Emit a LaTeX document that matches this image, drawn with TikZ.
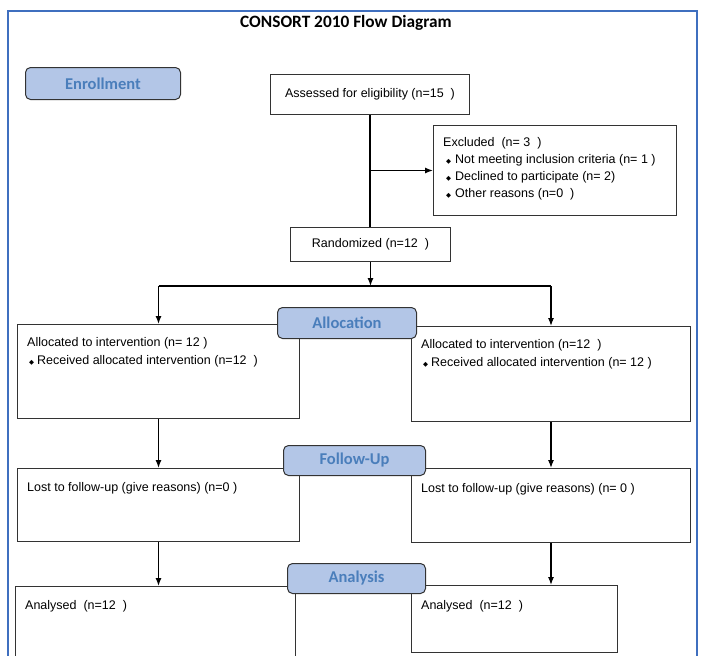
\documentclass[tikz,border=0pt]{standalone}
\usepackage{fontspec}
\setmainfont{Liberation Sans}
\newfontfamily\calib{Carlito}
\newfontfamily\symf{DejaVu Sans}
\usetikzlibrary{arrows.meta,calc}
\definecolor{frameblue}{HTML}{3F6FBF}
\definecolor{phasefill}{HTML}{B3C6E7}
\definecolor{phasetext}{HTML}{4A7EBB}
\definecolor{boxline}{HTML}{333333}
\newcommand{\bul}{{\symf\fontsize{6.5}{6.5}\selectfont ◆}}
\begin{document}
\begin{tikzpicture}[x=1pt,y=-1pt,
  box/.style={draw=boxline, line width=1pt, fill=white, inner sep=0pt, anchor=north west, font=\fontsize{12.5}{18}\selectfont},
  txt/.style={font=\fontsize{12.5}{18}\selectfont, align=left, inner sep=0pt},
  phase/.style={draw=boxline, line width=1pt, fill=phasefill, rounded corners=5pt, inner sep=0pt, anchor=north west, font=\calib\bfseries\fontsize{16.5}{16.5}\selectfont, text=phasetext},
  arr/.style={line width=1.2pt, -{Latex[length=8pt,width=6pt]}},
  ln/.style={line width=1.2pt}]
\useasboundingbox (0,0) rectangle (702,656);
\clip (0,0) rectangle (702,656);
\fill[white] (0,0) rectangle (702,656);
\draw[frameblue, line width=1.5pt] (8,11) rectangle (697,720);
\node[font=\calib\bfseries\fontsize{17.3}{17.3}\selectfont] (title) at (346,23) {CONSORT 2010 Flow Diagram};
% boxes
\node[box, minimum width=199pt, minimum height=40pt] (as) at (270,74) {Assessed for eligibility (n=15~~)};
\node[box, minimum width=243pt, minimum height=90pt] (ex) at (433,125) {};
\node[box, minimum width=160pt, minimum height=34pt] (rz) at (290,227) {Randomized (n=12~~)};
\node[box, minimum width=282pt, minimum height=94pt] (la) at (17,324) {};
\node[box, minimum width=279pt, minimum height=95pt] (ra) at (411,326) {};
\node[box, minimum width=282pt, minimum height=73pt] (ll) at (17,468) {};
\node[box, minimum width=279pt, minimum height=74pt] (rl) at (411,468) {};
\node[box, minimum width=280pt, minimum height=110pt] (lan) at (15,586) {};
\node[box, minimum width=206pt, minimum height=67pt] (ran) at (411,585) {};
% texts
\node[txt, anchor=north west, font=\fontsize{12.5}{17}\selectfont] (extx) at (443,137) {Excluded~~(n=~3~~)\\
\hspace{3pt}\bul\hspace{4pt}Not meeting inclusion criteria (n=~1~)\\
\hspace{3pt}\bul\hspace{4pt}Declined to participate (n=~2)\\
\hspace{3pt}\bul\hspace{4pt}Other reasons (n=0~~)};
\node[txt, anchor=north west] (latx) at (27,337.6) {Allocated to intervention (n=~12~)\\
\hspace{2pt}\bul\hspace{3pt}Received allocated intervention (n=12~~)};
\node[txt, anchor=north west] (ratx) at (421,339.4) {Allocated to intervention (n=12~~)\\
\hspace{2pt}\bul\hspace{3pt}Received allocated intervention (n=~12~)};
\node[txt, anchor=base west] (lltx) at (27,491.5) {Lost to follow-up (give reasons) (n=0~)};
\node[txt, anchor=base west] (rltx) at (421,492.5) {Lost to follow-up (give reasons) (n=~0~)};
\node[txt, anchor=base west] (lantx) at (25,609.5) {Analysed~~(n=12~~)};
\node[txt, anchor=base west] (rantx) at (421,609.5) {Analysed~~(n=12~~)};
% connectors
\coordinate (jx) at (as.south |- ex.west);
\coordinate (hs) at ($(rz.south)+(0,24)$);
\coordinate (hl) at (la.north |- hs);
\coordinate (hr) at (ra.north |- hs);
\draw[ln] (as.south) -- (as.south |- rz.north);
\draw[arr] (jx) -- (ex.west);
\draw[arr] (rz.south) -- (hs);
\draw[ln] (hl) -- (hr);
\draw[arr] (hl) -- (la.north);
\draw[arr] (hr) -- (ra.north);
\draw[arr] (la.south) -- (ll.north);
\draw[arr] (ra.south) -- (rl.north);
\draw[arr] (ll.south) -- (ll.south |- lan.north);
\draw[arr] (rl.south) -- (rl.south |- ran.north);
% phase labels
\node[phase, minimum width=155pt, minimum height=32pt] (en) at (25,67) {Enrollment};
\node[phase, minimum width=139pt, minimum height=31pt] (al) at (277,307) {Allocation};
\node[phase, minimum width=142pt, minimum height=30pt] (fu) at (283,445) {Follow-Up};
\node[phase, minimum width=138pt, minimum height=30pt] (an) at (287,563) {Analysis};
\end{tikzpicture}
\end{document}
